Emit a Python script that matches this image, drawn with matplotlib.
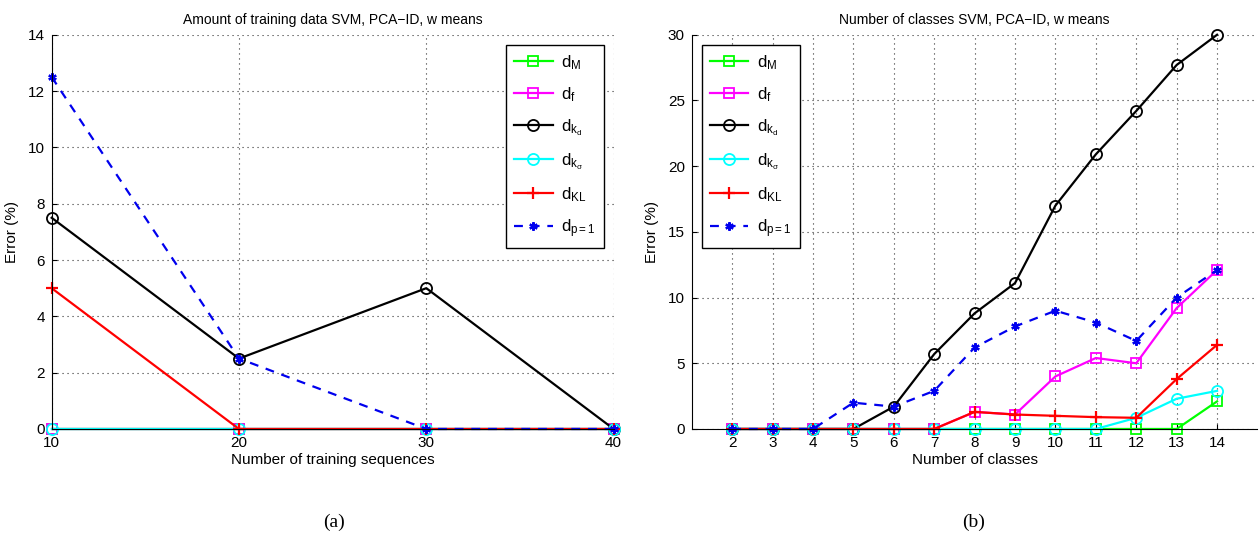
import matplotlib
matplotlib.use('Agg')
import matplotlib.pyplot as plt

plt.rcParams['font.family'] = ['Liberation Sans', 'DejaVu Sans']
plt.rcParams['mathtext.fontset'] = 'custom'
plt.rcParams['mathtext.rm'] = 'Liberation Sans'
plt.rcParams['mathtext.it'] = 'Liberation Sans'

# (a) amount of training data
train_x = [10, 20, 30, 40]
train_dM = [0, 0, 0, 0]
train_df = [0, 0, 0, 0]
train_dkd = [7.5, 2.5, 5, 0]
train_dks = [0, 0, 0, 0]
train_dKL = [5, 0, 0, 0]
train_dp1 = [12.5, 2.5, 0, 0]

# (b) number of classes
cls_x = [2, 3, 4, 5, 6, 7, 8, 9, 10, 11, 12, 13, 14]
cls_dM = [0, 0, 0, 0, 0, 0, 0, 0, 0, 0, 0, 0, 2.1]
cls_df = [0, 0, 0, 0, 0, 0, 1.3, 1.1, 4.0, 5.4, 5.0, 9.2, 12.1]
cls_dkd = [0, 0, 0, 0, 1.7, 5.7, 8.8, 11.1, 17.0, 20.9, 24.2, 27.7, 30.0]
cls_dks = [0, 0, 0, 0, 0, 0, 0, 0, 0, 0, 0.85, 2.3, 2.9]
cls_dKL = [0, 0, 0, 0, 0, 0, 1.3, 1.1, 1.0, 0.9, 0.85, 3.8, 6.4]
cls_dp1 = [0, 0, 0, 2.0, 1.7, 2.9, 6.2, 7.8, 9.0, 8.1, 6.7, 10.0, 12.1]

labels = [r'd$_\mathrm{M}$', r'd$_\mathrm{f}$', r'd$_{\mathrm{k}_\mathrm{d}}$',
          r'd$_{\mathrm{k}_\sigma}$', r'd$_\mathrm{KL}$', r'd$_\mathrm{p=1}$']
styles = [
    dict(color='#00ff00', marker='s', ls='-', mfc='none', ms=7, mew=1.3, lw=1.6),
    dict(color='#ff00ff', marker='s', ls='-', mfc='none', ms=7, mew=1.3, lw=1.6),
    dict(color='black', marker='o', ls='-', mfc='none', ms=8, mew=1.3, lw=1.6),
    dict(color='#00ffff', marker='o', ls='-', mfc='none', ms=8, mew=1.3, lw=1.6),
    dict(color='red', marker='+', ls='-', ms=9, mew=1.6, lw=1.6),
    dict(color='#0000ee', marker=(6, 2, 0), ls='--', ms=6, mew=1.6, lw=1.6,
         dashes=(4, 3.5)),
]


def draw(ax, x, series, title, xlabel, ylim, legend_loc):
    for y, lab, st in zip(series, labels, styles):
        ax.plot(x, y, label=lab, clip_on=False, **st)
    ax.set_title(title, fontsize=10, pad=8)
    ax.set_xlabel(xlabel, fontsize=11, labelpad=2)
    ax.set_ylabel('Error (%)', fontsize=11, labelpad=6)
    ax.set_ylim(ylim)
    ax.grid(True, ls=(0, (1, 3.5)), color='#333333', lw=0.8)
    ax.spines['top'].set_visible(False)
    ax.spines['right'].set_visible(False)
    ax.tick_params(direction='in', labelsize=11)
    ax.tick_params(axis='x', pad=5)
    ax.tick_params(axis='y', pad=5)
    leg = ax.legend(loc=legend_loc, fontsize=12, fancybox=False,
                    edgecolor='black', framealpha=1, handlelength=2.3,
                    handletextpad=0.5, labelspacing=0.8, borderpad=0.5,
                    borderaxespad=0.6)
    leg.get_frame().set_linewidth(1.0)


fig = plt.figure(figsize=(12.6, 5.43), dpi=100)
ax1 = fig.add_axes([0.041, 0.21, 0.446, 0.726])
ax2 = fig.add_axes([0.549, 0.21, 0.449, 0.726])

draw(ax1, train_x,
     [train_dM, train_df, train_dkd, train_dks, train_dKL, train_dp1],
     'Amount of training data SVM, PCA\u2212ID, w means',
     'Number of training sequences', (0, 14), 'upper right')
ax1.set_xlim(10, 40)
ax1.set_xticks([10, 20, 30, 40])
ax1.set_yticks(range(0, 15, 2))

draw(ax2, cls_x,
     [cls_dM, cls_df, cls_dkd, cls_dks, cls_dKL, cls_dp1],
     'Number of classes SVM, PCA\u2212ID, w means',
     'Number of classes', (0, 30), 'upper left')
ax2.set_xlim(1, 15)
ax2.set_xticks(cls_x)
ax2.set_yticks(range(0, 31, 5))

fig.text(0.265, 0.03, '(a)', ha='center', fontsize=14, family='Liberation Serif')
fig.text(0.773, 0.03, '(b)', ha='center', fontsize=14, family='Liberation Serif')

plt.savefig('out.png', dpi=100)
